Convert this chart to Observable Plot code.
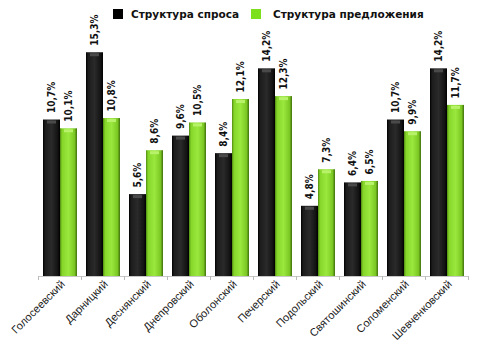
<!DOCTYPE html>
<html><head><meta charset="utf-8">
<script src="https://cdn.jsdelivr.net/npm/d3@7"></script>
<script src="https://cdn.jsdelivr.net/npm/@observablehq/plot@0.6"></script>
<style>
body{margin:0;background:#fff;}
#wrap{position:relative;width:480px;height:354px;overflow:hidden;}
#legend{position:absolute;left:0;top:0;width:480px;height:30px;font-family:"DejaVu Sans",Verdana,sans-serif;font-weight:bold;font-size:10.5px;color:#111;}
.sw{position:absolute;top:9px;width:10px;height:10px;}
.lt{position:absolute;top:8px;white-space:nowrap;}
</style></head>
<body><div id="wrap"><div id="legend"></div></div>
<script>
const districts = ["Голосеевский","Дарницкий","Деснянский","Днепровский","Оболонский","Печерский","Подольский","Святошинский","Соломенский","Шевченковский"];
const seriesNames = ["Структура спроса","Структура предложения"];
const demand = [10.7,15.3,5.6,9.6,8.4,14.2,4.8,6.4,10.7,14.2];
const supply = [10.1,10.8,8.6,10.5,12.1,12.3,7.3,6.5,9.9,11.7];

const data = districts.flatMap((d,i)=>[
  {district:d, series:seriesNames[0], value:demand[i]},
  {district:d, series:seriesNames[1], value:supply[i]}
]);
const fmt = v => v.toFixed(1).replace(".", ",") + "%";

const plot = Plot.plot({
  width:480, height:354,
  marginTop:42, marginBottom:78, marginLeft:38, marginRight:12,
  style:{fontFamily:"'Liberation Sans',Arial,sans-serif", background:"transparent", color:"#111"},
  fx:{domain:districts, padding:0, label:null},
  x:{domain:seriesNames, paddingInner:0, paddingOuter:0.229, axis:null},
  y:{domain:[0,16], axis:null},
  color:{domain:seriesNames, range:["url(#gBlack)","url(#gGreen)"]},
  marks:[
    Plot.barY(data,{fx:"district", x:"series", y:"value", fill:"series"}),
    Plot.tickY(data,{fx:"district", x:"series", y:"value", dy:2, inset:4, strokeWidth:3,
      stroke:d=>d.series===seriesNames[0]?"#4a4a4a":"#b8f26a"}),
    Plot.ruleY([0],{stroke:"#c8c8c8"}),
    Plot.text(data,{fx:"district", x:"series", y:"value", text:d=>fmt(d.value), rotate:-90, textAnchor:"start", dy:-7, fontWeight:"bold", fontSize:10, fill:"#111", fontFamily:"'DejaVu Sans Condensed','DejaVu Sans',sans-serif"}),
    Plot.axisFx({anchor:"bottom", tickSize:0, tickPadding:6, tickRotate:-45, dx:3, fontSize:11, label:null, fill:"#1a1a1a"}),
    Plot.axisFx({anchor:"bottom", tickSize:4, text:null, label:null, dx:-21.5, stroke:"#bbb"}),
    Plot.axisFx({anchor:"bottom", tickSize:4, text:null, label:null, dx:21.5, stroke:"#bbb"})
  ]
});

const svg = d3.select(plot);
const defs = svg.insert("defs",":first-child");
const gb = defs.append("linearGradient").attr("id","gBlack").attr("x1","0").attr("x2","1").attr("y1","0").attr("y2","0");
[[0,"#000"],[0.12,"#1c1c1c"],[0.5,"#2a2a2a"],[0.85,"#141414"],[1,"#000"]].forEach(([o,c])=>gb.append("stop").attr("offset",o).attr("stop-color",c));
const gg = defs.append("linearGradient").attr("id","gGreen").attr("x1","0").attr("x2","1").attr("y1","0").attr("y2","0");
[[0,"#4f8a10"],[0.12,"#86d62a"],[0.5,"#9ae83e"],[0.85,"#7cc824"],[1,"#3f700c"]].forEach(([o,c])=>gg.append("stop").attr("offset",o).attr("stop-color",c));

document.getElementById("wrap").appendChild(plot);
plot.style.position="absolute"; plot.style.left="0"; plot.style.top="0";

const legend = document.getElementById("legend");
legend.style.zIndex = 2;
const items = [{name:seriesNames[0], color:"#000", sx:113, tx:131},{name:seriesNames[1], color:"#7ce01c", sx:251, tx:273}];
items.forEach(it=>{
  const s=document.createElement("div"); s.className="sw"; s.style.left=it.sx+"px"; s.style.background=it.color; legend.appendChild(s);
  const t=document.createElement("div"); t.className="lt"; t.style.left=it.tx+"px"; t.textContent=it.name; legend.appendChild(t);
});
</script></body></html>
